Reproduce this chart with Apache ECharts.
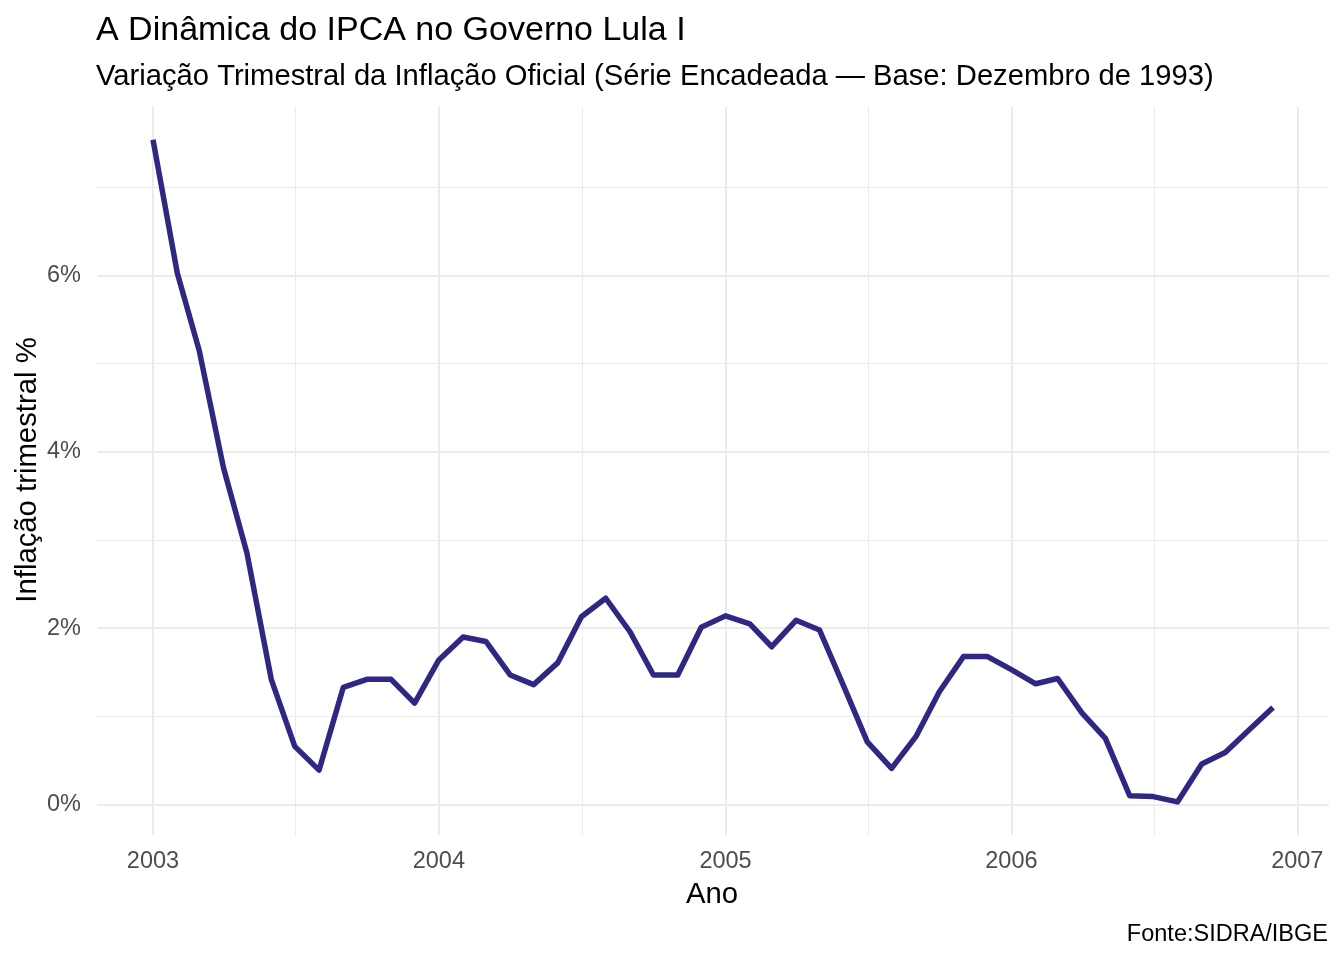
<!DOCTYPE html>
<html>
<head>
<meta charset="utf-8">
<title>A Dinâmica do IPCA no Governo Lula I</title>
<script src="https://cdn.jsdelivr.net/npm/echarts@6/dist/echarts.min.js"></script>
<style>
	html, body {margin: 0; padding: 0; background: #fff;}
	#chart {width: 1344px; height: 960px;}
</style>
</head>
<body>
<div id="chart"></div>
<script>
// meses (primeiro dia de cada mês)
var meses = [
	'2003-01','2003-02','2003-03','2003-04','2003-05','2003-06','2003-07','2003-08','2003-09','2003-10','2003-11','2003-12',
	'2004-01','2004-02','2004-03','2004-04','2004-05','2004-06','2004-07','2004-08','2004-09','2004-10','2004-11','2004-12',
	'2005-01','2005-02','2005-03','2005-04','2005-05','2005-06','2005-07','2005-08','2005-09','2005-10','2005-11','2005-12',
	'2006-01','2006-02','2006-03','2006-04','2006-05','2006-06','2006-07','2006-08','2006-09','2006-10','2006-11','2006-12'
];
// inflação trimestral %
var inflacao = [
	7.54, 6.03, 5.15, 3.82, 2.85, 1.42, 0.66, 0.39, 1.33, 1.42, 1.42, 1.15,
	1.64, 1.90, 1.85, 1.47, 1.36, 1.61, 2.13, 2.34, 1.96, 1.47, 1.47, 2.01,
	2.14, 2.05, 1.79, 2.09, 1.98, 1.34, 0.71, 0.41, 0.77, 1.28, 1.68, 1.68,
	1.53, 1.37, 1.43, 1.04, 0.75, 0.10, 0.09, 0.03, 0.46, 0.59, 0.85, 1.10
];
var anos = [2003, 2004, 2005, 2006, 2007];      // quebras principais do eixo x
var yTicks = [0, 2, 4, 6];                        // quebras principais do eixo y
var yMinor = [1, 3, 5, 7];                        // quebras secundárias do eixo y

var FONT = '"Liberation Sans", Arial, sans-serif';

function toTime(s) {
	var p = s.split('-');
	return Date.UTC(+p[0], +p[1] - 1, 1);
}

var dados = meses.map(function (m, i) { return [toTime(m), inflacao[i]]; });

// expansão de 5% como no ggplot
var t0 = dados[0][0], t1 = dados[dados.length - 1][0];
var xExp = (t1 - t0) * 0.05;
var yMinVal = Math.min.apply(null, inflacao), yMaxVal = Math.max.apply(null, inflacao);
var yExp = (yMaxVal - yMinVal) * 0.05;

var xMajor = anos.map(function (a) { return Date.UTC(a, 0, 1); });
var xMinor = anos.slice(0, -1).map(function (a) { return Date.UTC(a, 6, 2); });

var gridColor = '#EBEBEB';

var chart = echarts.init(document.getElementById('chart'));

var option = {
	backgroundColor: '#fff',
	animation: false,
	grid: {
		left: 97,
		top: 106.7,
		width: 1232,
		height: 728.3
	},
	xAxis: [{
		type: 'value',
		min: t0 - xExp,
		max: t1 + xExp,
		axisLine: {show: false},
		axisTick: {show: false, customValues: xMajor},
		axisLabel: {
			customValues: xMajor,
			margin: 15,
			color: '#4D4D4D',
			fontFamily: FONT,
			fontSize: 23.5,
			showMinLabel: true,
			showMaxLabel: true,
			formatter: function (v) { return String(new Date(v).getUTCFullYear()); }
		},
		splitLine: {show: true, lineStyle: {color: gridColor, width: 2}}
	}, {
		type: 'value',
		position: 'bottom',
		min: t0 - xExp,
		max: t1 + xExp,
		axisLine: {show: false},
		axisTick: {show: false, customValues: xMinor},
		axisLabel: {show: false, customValues: xMinor},
		splitLine: {show: true, lineStyle: {color: gridColor, width: 1}}
	}],
	yAxis: [{
		type: 'value',
		min: yMinVal - yExp,
		max: yMaxVal + yExp,
		axisLine: {show: false},
		axisTick: {show: false, customValues: yTicks},
		axisLabel: {
			customValues: yTicks,
			margin: 16,
			padding: [4, 0, 0, 0],
			color: '#4D4D4D',
			fontFamily: FONT,
			fontSize: 23.5,
			formatter: function (v) { return v + '%'; }
		},
		splitLine: {show: true, lineStyle: {color: gridColor, width: 2}}
	}, {
		type: 'value',
		position: 'left',
		min: yMinVal - yExp,
		max: yMaxVal + yExp,
		axisLine: {show: false},
		axisTick: {show: false, customValues: yMinor},
		axisLabel: {show: false, customValues: yMinor},
		splitLine: {show: true, lineStyle: {color: gridColor, width: 1}}
	}],
	series: [{
		type: 'line',
		data: dados,
		showSymbol: false,
		symbol: 'none',
		silent: true,
		lineStyle: {
			color: '#2E2883',
			width: 5.5,
			join: 'round',
			cap: 'butt'
		},
		z: 5
	}],
	graphic: [
		{
			type: 'text', x: 96, y: 30.5,
			style: {text: 'A Dinâmica do IPCA no Governo Lula I', font: '34px ' + FONT, fill: '#000', align: 'left', verticalAlign: 'middle'}
		},
		{
			type: 'text', x: 96, y: 77.3,
			style: {text: 'Variação Trimestral da Inflação Oficial (Série Encadeada — Base: Dezembro de 1993)', font: '29.2px ' + FONT, fill: '#000', align: 'left', verticalAlign: 'middle'}
		},
		{
			type: 'text', x: 712, y: 895,
			style: {text: 'Ano', font: '29.3px ' + FONT, fill: '#000', align: 'center', verticalAlign: 'middle'}
		},
		{
			type: 'text', x: 27.5, y: 470, rotation: Math.PI / 2,
			style: {text: 'Inflação trimestral %', font: '29.3px ' + FONT, fill: '#000', align: 'center', verticalAlign: 'middle'}
		},
		{
			type: 'text', x: 1328, y: 934.5,
			style: {text: 'Fonte:SIDRA/IBGE', font: '23.5px ' + FONT, fill: '#000', align: 'right', verticalAlign: 'middle'}
		}
	]
};

chart.setOption(option);
window.addEventListener('resize', function () {
	chart.resize();
});
</script>
</body>
</html>
